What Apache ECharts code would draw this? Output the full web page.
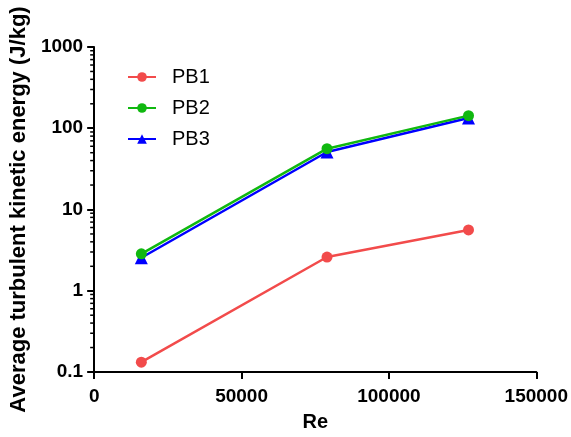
<!DOCTYPE html>
<html>
<head>
<meta charset="utf-8">
<script src="https://cdn.jsdelivr.net/npm/echarts@6/dist/echarts.min.js"></script>
<style>
  html, body { margin: 0; padding: 0; background: #fff; }
  #chart { width: 571px; height: 437px; }
</style>
</head>
<body>
<div id="chart"></div>
<script>
const reValues = [16000, 79000, 127000]
const pb1 = [0.132, 2.6, 5.6]
const pb2 = [2.85, 56, 143]
const pb3 = [2.55, 51, 134]
const xTicks = [0, 50000, 100000, 150000]
const yTicks = [0.1, 1, 10, 100, 1000]
const minorTicks = []
for (let d = 0.1; d < 1000; d *= 10) {
  for (let k = 2; k <= 9; k++) minorTicks.push(+(d * k).toPrecision(3))
}

const colors = { PB1: '#f24b4b', PB2: '#10b810', PB3: '#0000ff' }
const font = 'Arial, "Liberation Sans", sans-serif'

function pairs(ys) {
  return reValues.map((x, i) => [x, ys[i]])
}

function lineSeries(name, data, symbol, size, z) {
  return {
    name, type: 'line', data: pairs(data), symbol, symbolSize: size, z,
    lineStyle: { color: colors[name], width: 2.5 },
    itemStyle: { color: colors[name] },
    emphasis: { disabled: true }
  }
}

const chart = echarts.init(document.getElementById('chart'))
chart.setOption({
  animation: false,
  grid: { left: 94, right: 32, top: 47, bottom: 62 },
  legend: {
    orient: 'vertical', left: 122, top: 62,
    itemWidth: 28, itemHeight: 12, itemGap: 11,
    textStyle: { fontFamily: font, fontSize: 20, color: '#000', padding: [0, 0, 0, 11] },
    data: ['PB1', 'PB2', 'PB3']
  },
  xAxis: {
    type: 'value', min: 0, max: 150000, interval: 50000,
    name: 'Re', nameLocation: 'middle', nameGap: 40,
    nameTextStyle: { fontFamily: font, fontSize: 20, fontWeight: 'bold', color: '#000' },
    axisLine: { onZero: false, lineStyle: { color: '#000', width: 2 } },
    axisTick: { length: 7, lineStyle: { color: '#000', width: 2 } },
    axisLabel: { fontFamily: font, fontSize: 19, fontWeight: 'bold', color: '#000', margin: 15,
      formatter: v => xTicks.includes(v) ? String(v) : '' },
    splitLine: { show: false }
  },
  yAxis: {
    type: 'log', logBase: 10, min: 0.1, max: 1000,
    name: 'Average turbulent kinetic energy (J/kg)', nameLocation: 'middle', nameGap: 58,
    nameTextStyle: { fontFamily: font, fontSize: 22, fontWeight: 'bold', color: '#000' },
    axisLine: { onZero: false, lineStyle: { color: '#000', width: 2 } },
    axisTick: { length: 7, lineStyle: { color: '#000', width: 2 } },
    axisLabel: { fontFamily: font, fontSize: 19, fontWeight: 'bold', color: '#000', margin: 11,
      formatter: v => { const t = yTicks.find(y => Math.abs(y - v) / y < 1e-6); return t !== undefined ? String(t) : '' } },
    splitLine: { show: false }
  },
  series: [
    {
      type: 'custom', silent: true, clip: false, z: 1,
      data: minorTicks.map(v => [0, v]),
      renderItem: (params, api) => {
        const p = api.coord([0, api.value(1)])
        return {
          type: 'line',
          shape: { x1: p[0] - 4, y1: p[1], x2: p[0], y2: p[1] },
          style: { stroke: '#000', lineWidth: 1.5 }
        }
      }
    },
    lineSeries('PB1', pb1, 'circle', 11, 3),
    lineSeries('PB2', pb2, 'circle', 11, 4),
    lineSeries('PB3', pb3, 'triangle', 13, 3)
  ]
})
</script>
</body>
</html>
